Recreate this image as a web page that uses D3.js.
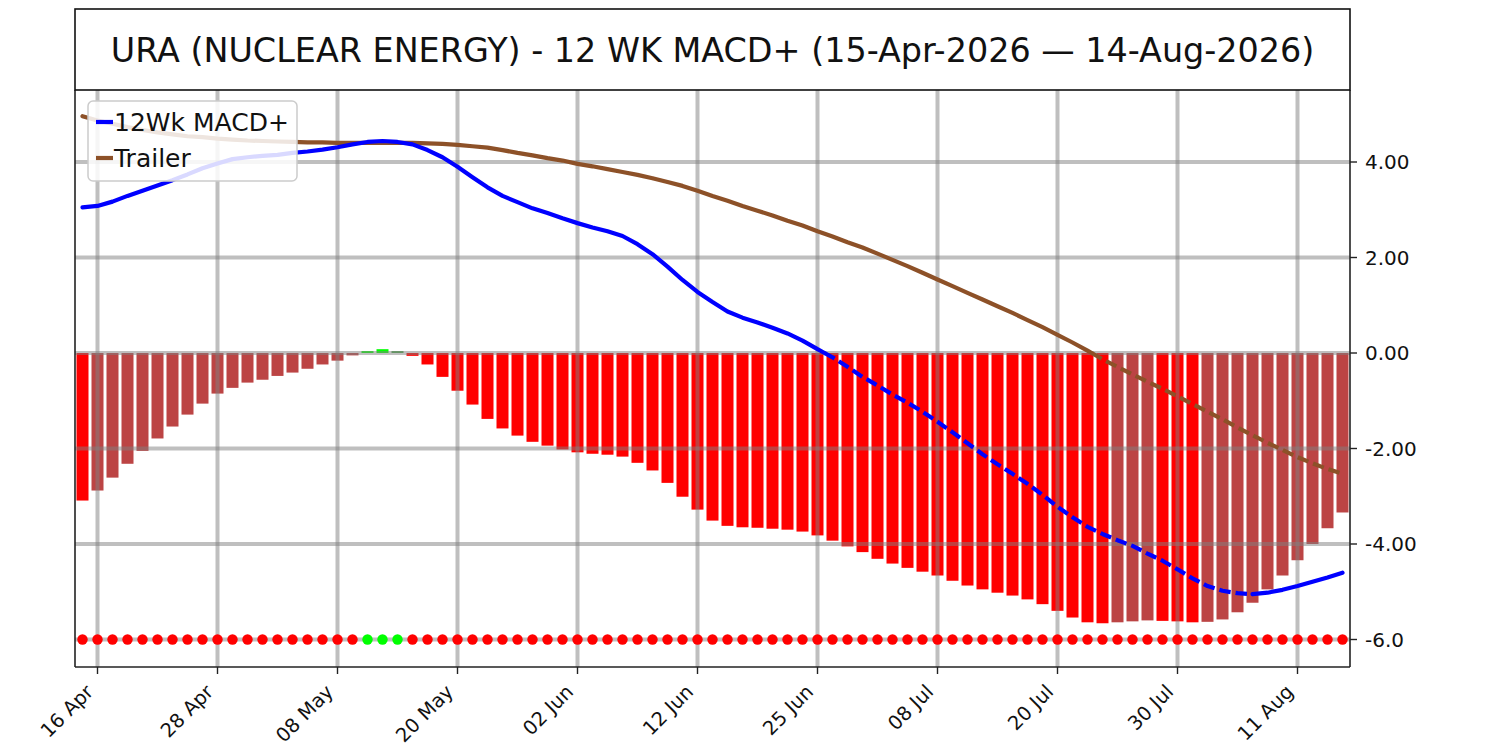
<!DOCTYPE html>
<html>
<head>
<meta charset="utf-8">
<script src="https://cdn.jsdelivr.net/npm/d3@7"></script>
<style>
  html, body { margin: 0; padding: 0; background: #ffffff; }
  svg { display: block; font-family: "DejaVu Sans", sans-serif; }
</style>
</head>
<body>
<svg id="chart" width="1500" height="750"></svg>
<script>
// ---------------- DATA ----------------
const titleText = "URA (NUCLEAR ENERGY) - 12 WK MACD+ (15-Apr-2026 \u2014 14-Aug-2026)";

const dates = [
  "15 Apr","16 Apr","17 Apr","20 Apr","21 Apr","22 Apr","23 Apr","24 Apr","27 Apr","28 Apr","29 Apr","30 Apr",
  "01 May","04 May","05 May","06 May","07 May","08 May","11 May","12 May","13 May","14 May","15 May","18 May",
  "19 May","20 May","21 May","22 May","26 May","27 May","28 May","29 May",
  "01 Jun","02 Jun","03 Jun","04 Jun","05 Jun","08 Jun","09 Jun","10 Jun","11 Jun","12 Jun","15 Jun","16 Jun",
  "17 Jun","18 Jun","22 Jun","23 Jun","24 Jun","25 Jun","26 Jun","29 Jun","30 Jun",
  "01 Jul","02 Jul","06 Jul","07 Jul","08 Jul","09 Jul","10 Jul","13 Jul","14 Jul","15 Jul","16 Jul","17 Jul",
  "20 Jul","21 Jul","22 Jul","23 Jul","24 Jul","27 Jul","28 Jul","29 Jul","30 Jul","31 Jul",
  "03 Aug","04 Aug","05 Aug","06 Aug","07 Aug","10 Aug","11 Aug","12 Aug","13 Aug","14 Aug"
];

const macdValues = [
  3.05, 3.08, 3.17, 3.29, 3.40, 3.51, 3.62, 3.74, 3.87, 3.97, 4.06, 4.10,
  4.13, 4.15, 4.19, 4.22, 4.26, 4.31, 4.37, 4.42, 4.44, 4.42, 4.37, 4.25,
  4.10, 3.90, 3.68, 3.47, 3.29, 3.16, 3.03, 2.93,
  2.82, 2.72, 2.63, 2.55, 2.45, 2.28, 2.07, 1.81, 1.53, 1.28, 1.07, 0.87,
  0.74, 0.64, 0.53, 0.41, 0.26, 0.08, -0.09, -0.29, -0.50,
  -0.68, -0.87, -1.04, -1.23, -1.44, -1.66, -1.89, -2.12, -2.33, -2.53, -2.74, -2.97,
  -3.22, -3.44, -3.64, -3.79, -3.92, -4.04, -4.20, -4.35, -4.53, -4.72,
  -4.88, -4.98, -5.03, -5.05, -5.02, -4.96, -4.88, -4.79, -4.70, -4.60
];

const trailerValues = [
  4.96, 4.87, 4.80, 4.73, 4.67, 4.62, 4.58, 4.54, 4.52, 4.49, 4.47, 4.45,
  4.44, 4.43, 4.42, 4.41, 4.41, 4.40, 4.40, 4.40, 4.40, 4.40, 4.40, 4.39,
  4.38, 4.36, 4.33, 4.30, 4.25, 4.19, 4.14, 4.08,
  4.03, 3.96, 3.91, 3.85, 3.79, 3.73, 3.66, 3.58, 3.50, 3.40, 3.29, 3.19,
  3.08, 2.98, 2.88, 2.77, 2.67, 2.55, 2.44, 2.32, 2.21,
  2.08, 1.95, 1.82, 1.68, 1.54, 1.40, 1.26, 1.12, 0.98, 0.84, 0.69, 0.54,
  0.38, 0.22, 0.05, -0.13, -0.29, -0.45, -0.60, -0.75, -0.91, -1.07,
  -1.23, -1.39, -1.56, -1.72, -1.88, -2.03, -2.18, -2.31, -2.43, -2.53
];

const histValues = [
  -3.09, -2.88, -2.61, -2.32, -2.05, -1.79, -1.54, -1.29, -1.06, -0.85, -0.73, -0.62,
  -0.56, -0.48, -0.41, -0.33, -0.24, -0.16, -0.05, 0.04, 0.08, 0.04, -0.06, -0.24,
  -0.50, -0.79, -1.08, -1.38, -1.58, -1.73, -1.86, -1.94,
  -2.02, -2.08, -2.11, -2.13, -2.17, -2.30, -2.46, -2.72, -3.01, -3.28, -3.51, -3.62,
  -3.65, -3.66, -3.68, -3.70, -3.74, -3.82, -3.93, -4.05, -4.17,
  -4.31, -4.41, -4.50, -4.58, -4.66, -4.77, -4.87, -4.95, -5.02, -5.08, -5.16, -5.26,
  -5.40, -5.54, -5.64, -5.66, -5.64, -5.62, -5.60, -5.61, -5.62, -5.64,
  -5.63, -5.58, -5.43, -5.23, -4.95, -4.66, -4.34, -4.00, -3.67, -3.34
];

const signalLevel = -6;
const xTickLabels = ["16 Apr","28 Apr","08 May","20 May","02 Jun","12 Jun","25 Jun","08 Jul","20 Jul","30 Jul","11 Aug"];
const yTickValues = [4, 2, 0, -2, -4, -6];
const yTickLabels = ["4.00", "2.00", "0.00", "-2.00", "-4.00", "-6.0"];
const seriesNames = ["12Wk MACD+", "Trailer"];

// ---------------- LAYOUT / STYLE ----------------
const L = 75, R = 1350, T = 90, B = 667;
const titleTop = 9;
const colors = {
  macd: "#0000ff",
  trailer: "#8d5128",
  negFall: "#ff0000",
  negRise: "#bc4444",
  posRise: "#00ff00",
  posFall: "#4aa84a",
  dotNeg: "#ff0000",
  dotPos: "#00ff00"
};

const svg = d3.select("#chart");

const x = d3.scaleLinear().domain([-0.5, dates.length - 0.5]).range([L, R]);
const y = d3.scaleLinear().domain([-6.576, 5.508]).range([B, T]);
const step = x(1) - x(0);
const barW = step * 0.8;

// ---------------- BARS ----------------
function barColor(v, i) {
  const prev = i > 0 ? histValues[i - 1] : v;
  const rising = v > prev;
  if (v >= 0) return rising ? colors.posRise : colors.posFall;
  return rising ? colors.negRise : colors.negFall;
}

svg.append("g").selectAll("rect")
  .data(histValues)
  .join("rect")
  .attr("x", (d, i) => x(i) - barW / 2)
  .attr("width", barW)
  .attr("y", d => Math.min(y(d), y(0)))
  .attr("height", d => Math.abs(y(d) - y(0)))
  .attr("fill", (d, i) => barColor(d, i));

// ---------------- GRID ----------------
const tickIdx = xTickLabels.map(l => dates.indexOf(l));
const grid = svg.append("g").attr("stroke", "#808080").attr("stroke-opacity", 0.5).attr("stroke-width", 4);
grid.selectAll("line.v").data(tickIdx).join("line")
  .attr("class", "v")
  .attr("x1", d => x(d)).attr("x2", d => x(d))
  .attr("y1", T).attr("y2", B);
grid.selectAll("line.h").data(yTickValues).join("line")
  .attr("class", "h")
  .attr("x1", L).attr("x2", R)
  .attr("y1", d => y(d)).attr("y2", d => y(d));

// ---------------- LINES ----------------
function styleOf(a, b) {
  return a[1] <= 0 && b[1] <= 0 && b[1] < a[1];
}
function buildRuns(vals) {
  const runs = [];
  let cur = null;
  function push(a, b) {
    const dashed = styleOf(a, b);
    if (cur && cur.dashed === dashed) cur.pts.push(b);
    else { cur = { dashed, pts: [a, b] }; runs.push(cur); }
  }
  for (let i = 0; i < vals.length - 1; i++) {
    const a = [i, vals[i]], b = [i + 1, vals[i + 1]];
    if ((a[1] > 0 && b[1] < 0) || (a[1] < 0 && b[1] > 0)) {
      const t = a[1] / (a[1] - b[1]);
      const z = [i + t, 0];
      push(a, z); push(z, b);
    } else push(a, b);
  }
  return runs;
}
const lineGen = d3.line().x(d => x(d[0])).y(d => y(d[1]));

function drawSeries(vals, color) {
  const g = svg.append("g");
  buildRuns(vals).forEach(r => {
    g.append("path")
      .attr("d", lineGen(r.pts))
      .attr("fill", "none")
      .attr("stroke", color)
      .attr("stroke-width", 4.2)
      .attr("stroke-linejoin", "round")
      .attr("stroke-linecap", r.dashed ? "butt" : "round")
      .attr("stroke-dasharray", r.dashed ? "11.5,5" : null);
  });
}
drawSeries(trailerValues, colors.trailer);
drawSeries(macdValues, colors.macd);

// ---------------- SIGNAL DOTS ----------------
svg.append("g").selectAll("circle")
  .data(histValues)
  .join("circle")
  .attr("cx", (d, i) => x(i))
  .attr("cy", y(signalLevel))
  .attr("r", 5.2)
  .attr("fill", d => d > 0 ? colors.dotPos : colors.dotNeg);

// ---------------- AXES / SPINES ----------------
const ax = svg.append("g").attr("stroke", "#222").attr("stroke-width", 1.6);
ax.append("line").attr("x1", L).attr("x2", L).attr("y1", T).attr("y2", B);
ax.append("line").attr("x1", R).attr("x2", R).attr("y1", T).attr("y2", B);
ax.append("line").attr("x1", L).attr("x2", R).attr("y1", B).attr("y2", B);

// right y ticks
const yt = svg.append("g");
yt.selectAll("line").data(yTickValues).join("line")
  .attr("x1", R).attr("x2", R + 7)
  .attr("y1", d => y(d)).attr("y2", d => y(d))
  .attr("stroke", "#222").attr("stroke-width", 1.4);
yt.selectAll("text").data(yTickValues).join("text")
  .attr("x", R + 15)
  .attr("y", d => y(d))
  .attr("dy", "0.36em")
  .attr("font-size", 20)
  .attr("fill", "#111")
  .text((d, i) => yTickLabels[i]);

// bottom x ticks
const xt = svg.append("g");
xt.selectAll("line").data(tickIdx).join("line")
  .attr("x1", d => x(d)).attr("x2", d => x(d))
  .attr("y1", B).attr("y2", B + 7)
  .attr("stroke", "#222").attr("stroke-width", 1.4);
xt.selectAll("text").data(tickIdx).join("text")
  .attr("transform", d => `translate(${x(d) - 3},${B + 26}) rotate(-45)`)
  .attr("text-anchor", "end")
  .attr("font-size", 19.5)
  .attr("fill", "#111")
  .text((d, i) => xTickLabels[i]);

// ---------------- TITLE BOX ----------------
svg.append("rect")
  .attr("x", L).attr("y", titleTop)
  .attr("width", R - L).attr("height", T - titleTop)
  .attr("fill", "#fff").attr("stroke", "#111").attr("stroke-width", 1.6);
svg.append("text")
  .attr("x", (L + R) / 2).attr("y", (titleTop + T) / 2)
  .attr("dy", "0.36em")
  .attr("text-anchor", "middle")
  .attr("font-size", 33.4)
  .attr("fill", "#111")
  .text(titleText);

// ---------------- LEGEND ----------------
const lg = svg.append("g");
lg.append("rect")
  .attr("x", 88).attr("y", 101).attr("width", 209).attr("height", 80)
  .attr("rx", 5).attr("ry", 5)
  .attr("fill", "#fff").attr("fill-opacity", 0.85)
  .attr("stroke", "#cccccc").attr("stroke-width", 1.5);
const legendColors = [colors.macd, colors.trailer];
seriesNames.forEach((name, i) => {
  const cy = 122 + i * 36;
  lg.append("line")
    .attr("x1", 96).attr("x2", 113)
    .attr("y1", cy).attr("y2", cy)
    .attr("stroke", legendColors[i]).attr("stroke-width", 4.2);
  lg.append("text")
    .attr("x", 114).attr("y", cy)
    .attr("dy", "0.36em")
    .attr("font-size", 25)
    .attr("fill", "#111")
    .text(name);
});
</script>
</body>
</html>
